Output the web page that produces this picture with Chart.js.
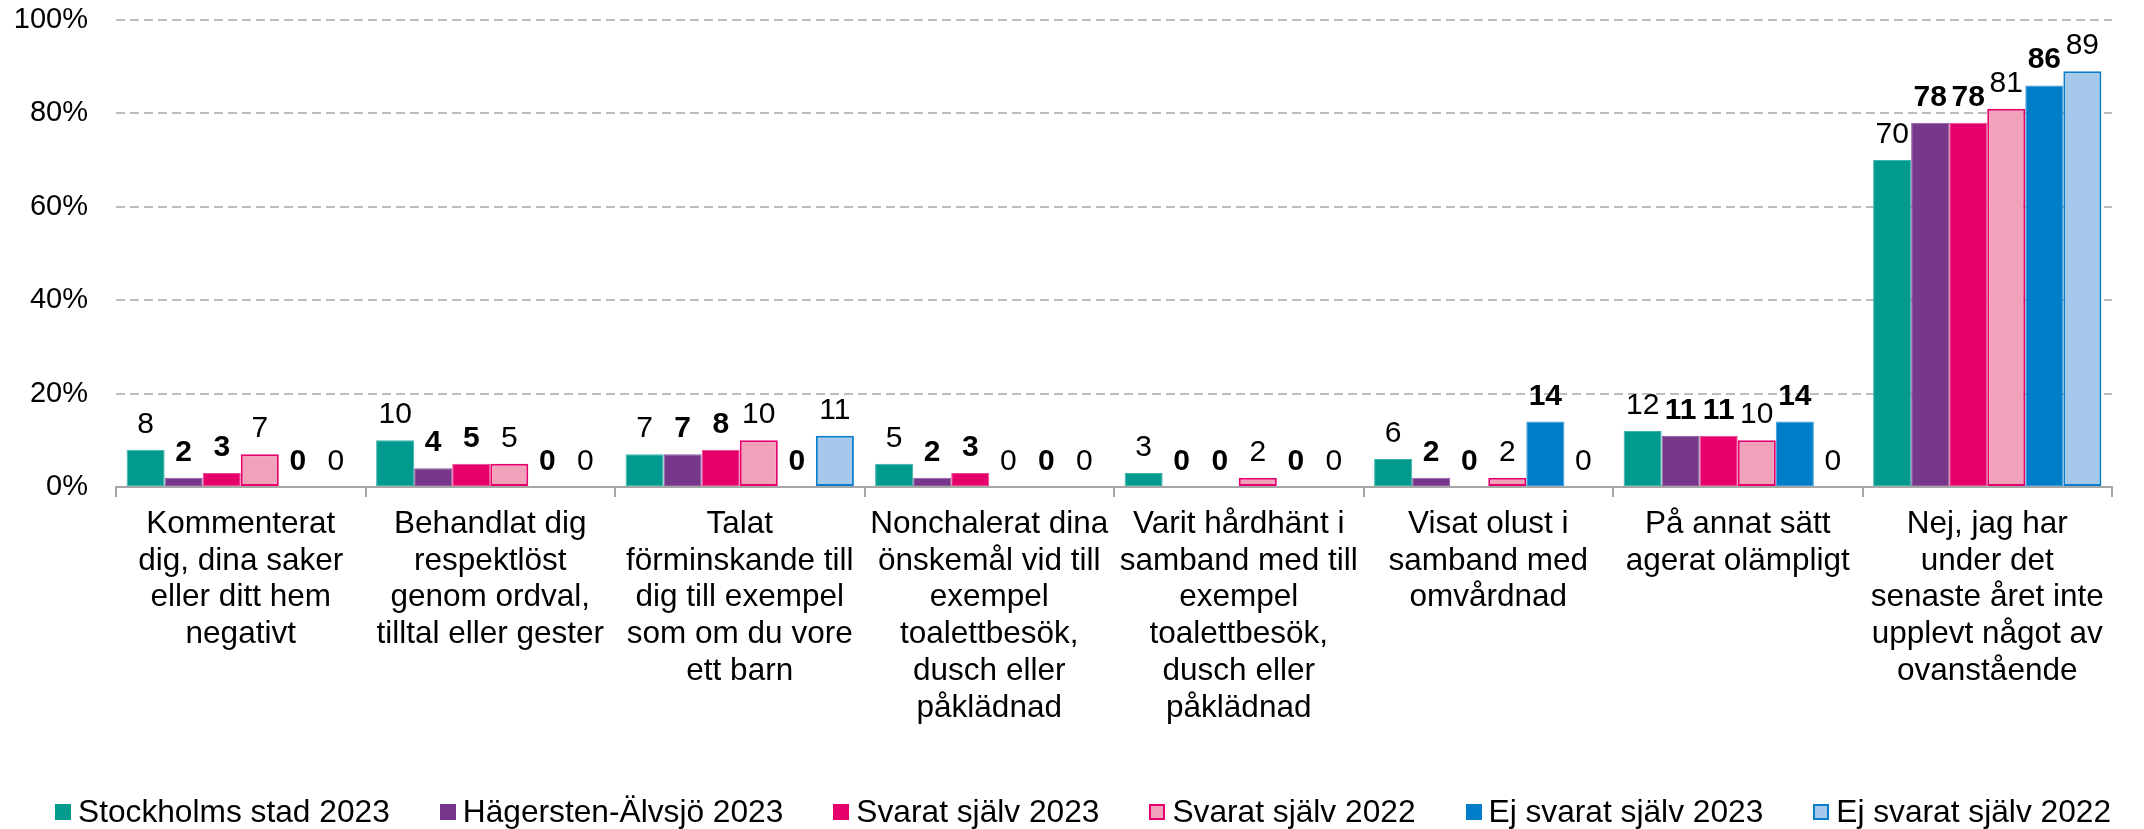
<!DOCTYPE html>
<html lang="sv">
<head>
<meta charset="utf-8">
<title>Upplevt bemötande</title>
<script src="https://cdn.jsdelivr.net/npm/chart.js@4.4.1/dist/chart.umd.min.js"></script>
<style>
  html, body { margin: 0; padding: 0; background: #ffffff; }
  #wrap { position: relative; width: 2144px; height: 829px; }
  #chart { position: absolute; left: 0; top: 0; }
  #legend {
    position: absolute; left: 55px; top: 796px;
    display: flex; align-items: center;
    font-family: 'Liberation Sans', Arial, sans-serif;
    font-size: 31.7px; line-height: 1; color: #000;
    white-space: nowrap;
  }
  .item { display: flex; align-items: center; margin-right: 50px; }
  .item:last-child { margin-right: 0; }
  .box { width: 16px; height: 16px; box-sizing: border-box; margin-right: 7px; }
</style>
</head>
<body>
<div id="wrap">
  <canvas id="chart" width="2144" height="829"></canvas>
  <div id="legend"></div>
</div>
<script>
// Categories (multi-line axis labels)
const categories = [
  ["Kommenterat", "dig, dina saker", "eller ditt hem", "negativt"],
  ["Behandlat dig", "respektlöst", "genom ordval,", "tilltal eller gester"],
  ["Talat", "förminskande till", "dig till exempel", "som om du vore", "ett barn"],
  ["Nonchalerat dina", "önskemål vid till", "exempel", "toalettbesök,", "dusch eller", "påklädnad"],
  ["Varit hårdhänt i", "samband med till", "exempel", "toalettbesök,", "dusch eller", "påklädnad"],
  ["Visat olust i", "samband med", "omvårdnad"],
  ["På annat sätt", "agerat olämpligt"],
  ["Nej, jag har", "under det", "senaste året inte", "upplevt något av", "ovanstående"]
];

// Series names
const seriesNames = [
  "Stockholms stad 2023",
  "Hägersten-Älvsjö 2023",
  "Svarat själv 2023",
  "Svarat själv 2022",
  "Ej svarat själv 2023",
  "Ej svarat själv 2022"
];

// Values in percent
const stockholm2023   = [8, 10, 7, 5, 3, 6, 12, 70];
const hagersten2023   = [2, 4, 7, 2, 0, 2, 11, 78];
const svarat2023      = [3, 5, 8, 3, 0, 0, 11, 78];
const svarat2022      = [7, 5, 10, 0, 2, 2, 10, 81];
const ejSvarat2023    = [0, 0, 0, 0, 0, 14, 14, 86];
const ejSvarat2022    = [0, 0, 11, 0, 0, 0, 0, 89];

// Y axis tick values
const yTickValues = [0, 20, 40, 60, 80, 100];

const seriesValues = [stockholm2023, hagersten2023, svarat2023, svarat2022, ejSvarat2023, ejSvarat2022];

// Styling per series
const fills   = ["#009A8F", "#77378A", "#E5006C", "#F2A1BA", "#007DC8", "#A6C9EB"];
const borders = ["#3DB3AA", "#8C5AA0", "#EC4A90", "#E5006C", "#3A98D6", "#0A7DCB"];
const borderW = [1, 1, 1, 2, 1, 2];
const boldLabel = [false, true, true, false, true, false];

const FONT = "'Liberation Sans', Arial, sans-serif";
Chart.defaults.font.family = FONT;
Chart.defaults.color = "#000000";

// Value labels above each bar
const valueLabels = {
  id: 'valueLabels',
  afterDatasetsDraw(chart) {
    const ctx = chart.ctx;
    ctx.save();
    ctx.textAlign = 'center';
    ctx.textBaseline = 'alphabetic';
    ctx.fillStyle = '#000000';
    chart.data.datasets.forEach((ds, di) => {
      const meta = chart.getDatasetMeta(di);
      ctx.font = (boldLabel[di] ? 'bold ' : '') + '30px ' + FONT;
      meta.data.forEach((bar, i) => {
        ctx.fillText(String(ds.data[i]), bar.x, bar.y - 17);
      });
    });
    ctx.restore();
  }
};

const chart = new Chart(document.getElementById('chart'), {
  type: 'bar',
  data: {
    labels: categories,
    datasets: seriesNames.map((name, i) => ({
      label: name,
      data: seriesValues[i],
      backgroundColor: fills[i],
      borderColor: borders[i],
      borderWidth: borderW[i],
      borderSkipped: false,
      categoryPercentage: 0.915,
      barPercentage: 1.0
    }))
  },
  options: {
    responsive: false,
    animation: false,
    layout: { padding: { top: 0, right: 32, left: 0, bottom: 0 } },
    plugins: {
      legend: { display: false },
      tooltip: { enabled: false }
    },
    scales: {
      x: {
        offset: true,
        border: { display: true, color: '#A6A6A6', width: 2 },
        grid: {
          offset: true,
          drawOnChartArea: false,
          drawTicks: true,
          tickLength: 10,
          color: '#A6A6A6',
          lineWidth: 2
        },
        ticks: {
          autoSkip: false,
          maxRotation: 0,
          minRotation: 0,
          padding: 9,
          color: '#000000',
          font: { size: 31.5, lineHeight: 1.165 }
        },
        afterFit(scale) { scale.height = 342; }
      },
      y: {
        min: 0,
        max: 100,
        grid: {
          drawTicks: false,
          color: (c) => (c.tick && c.tick.value === 0) ? 'rgba(0,0,0,0)' : '#BDBDBD',
          lineWidth: 2
        },
        border: { display: false, dash: [9, 5] },
        afterBuildTicks(scale) {
          scale.ticks = yTickValues.map(v => ({ value: v }));
        },
        ticks: {
          padding: 28,
          color: '#000000',
          font: { size: 29 },
          callback: (v) => v + '%'
        },
        afterFit(scale) {
          scale.width = 116;
          scale.paddingTop = 20;
          scale.paddingBottom = 0;
        }
      }
    }
  },
  plugins: [valueLabels]
});

// Legend built from the series names and colours
const legend = document.getElementById('legend');
seriesNames.forEach((name, i) => {
  const item = document.createElement('div');
  item.className = 'item';
  const box = document.createElement('span');
  box.className = 'box';
  box.style.background = fills[i];
  if (borderW[i] > 1) box.style.border = '2px solid ' + borders[i];
  const txt = document.createElement('span');
  txt.textContent = name;
  item.appendChild(box);
  item.appendChild(txt);
  legend.appendChild(item);
});
</script>
</body>
</html>
